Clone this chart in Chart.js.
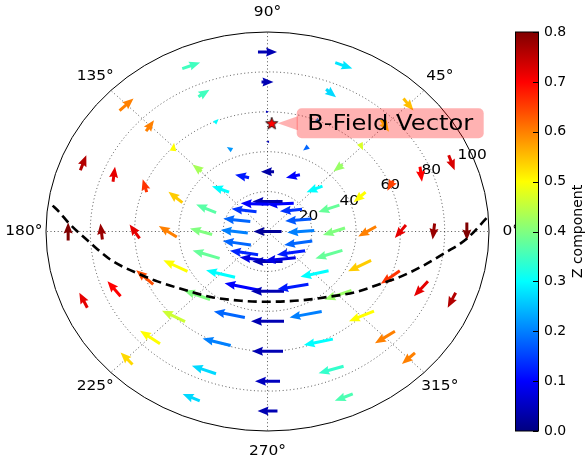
<!DOCTYPE html>
<html>
<head>
<meta charset="UTF-8">
<title>B-Field quiver</title>
<script src="https://cdn.jsdelivr.net/npm/chart.js"></script>
<style>
  html, body { margin: 0; padding: 0; background: #fff; }
</style>
</head>
<body>
<canvas id="chart-quiver" width="586" height="460"></canvas>
<script>
// polar grid of the arrows (r in degrees from centre, theta in degrees)
const radii = [15, 30, 45, 60, 75, 90];
const angles = [0, 22.5, 45, 67.5, 90, 112.5, 135, 157.5, 180, 202.5, 225, 247.5, 270, 292.5, 315, 337.5];

// arrow at the centre
const uC = -12.7, vC = 0, zC = 0.02;

// arrow components (u, v) and Z component, one list per ring, same order as angles
const u15 = [-12.2, -11.8, -10.0, -12.2, -13.6, -12.7, -11.3, -12.2, -12.2, -12.7, -12.7, -13.6, -13.6, -14.0, -12.7, -12.7];
const v15 = [-1.0, -1.0, -1.0, -0.5, 0, 0.5, 1.5, 1.5, 1.5, 2.0, 2.0, 2.0, 0, -1.5, -2.0, -2.0];
const z15 = [0.2, 0.17, 0.14, 0.1, 0.04, 0.1, 0.14, 0.18, 0.2, 0.18, 0.13, 0.08, 0.04, 0.08, 0.12, 0.18];

const u30 = [-10.0, -9.5, -7.2, -6.3, -5.9, -6.3, -7.7, -9.0, -10.0, -12.2, -13.1, -15.8, -14.9, -14.0, -12.7, -12.2];
const v30 = [-3.5, -3.5, -3.0, -1.5, 0, 1.5, 3.0, 4.0, 3.0, 4.0, 3.5, 3.5, 0, -2.5, -3.0, -4.0];
const z30 = [0.4, 0.38, 0.3, 0.1, 0.03, 0.12, 0.3, 0.37, 0.4, 0.38, 0.3, 0.1, 0.04, 0.12, 0.3, 0.38];

const u45 = [-8.1, -5.4, -4.1, -2.3, -1.4, -2.3, -4.1, -6.3, -8.1, -10.9, -11.8, -14.0, -14.9, -14.5, -12.2, -10.4];
const v45 = [-5.0, -5.0, -3.5, -2.0, 0, 1.5, 3.5, 5.5, 5.5, 5.5, 4.5, 3.0, 0, -3.0, -4.5, -5.5];
const z45 = [0.6, 0.5, 0.42, 0.18, 0.04, 0.22, 0.43, 0.54, 0.6, 0.5, 0.4, 0.18, 0.04, 0.2, 0.42, 0.54];

const u60 = [-5.0, -2.7, 1.4, 1.8, 1.4, 1.8, 0.5, -1.8, -4.5, -7.7, -10.4, -12.7, -14.0, -13.1, -11.3, -8.6];
const v60 = [-6.5, -5.0, -3.5, -1.5, 0, 2.0, 4.0, 6.5, 7.0, 7.0, 5.5, 3.5, 0, -3.0, -5.0, -6.5];
const z60 = [0.72, 0.65, 0.47, 0.22, 0.05, 0.3, 0.5, 0.66, 0.72, 0.64, 0.46, 0.2, 0.04, 0.3, 0.5, 0.66];

const u75 = [-0.9, 0.9, 3.6, 4.5, 5.4, 5.0, 3.6, 0.9, -0.9, -5.9, -9.0, -10.9, -11.3, -11.3, -9.0, -6.3];
const v75 = [-8.0, -7.5, -6.0, -4.0, 0, 3.5, 5.5, 7.5, 8.0, 7.5, 6.5, 4.0, 0, -3.5, -6.0, -7.5];
const z75 = [0.78, 0.7, 0.53, 0.27, 0.04, 0.35, 0.6, 0.72, 0.78, 0.7, 0.5, 0.27, 0.05, 0.34, 0.6, 0.72];

const u90 = [0, 2.7, 4.5, 7.7, 8.6, 8.1, 6.3, 2.7, 0, -3.6, -5.4, -7.7, -9.0, -8.1, -5.9, -3.6];
const v90 = [-9.0, -7.5, -6.0, -3.0, 0, 3.0, 6.0, 7.5, 9.0, 7.5, 6.0, 3.5, 0, -3.5, -5.5, -7.5];
const z90 = [0.8, 0.73, 0.55, 0.28, 0.04, 0.35, 0.6, 0.76, 0.8, 0.72, 0.53, 0.27, 0.04, 0.36, 0.6, 0.76];

const ringU = [u15, u30, u45, u60, u75, u90];
const ringV = [v15, v30, v45, v60, v75, v90];
const ringZ = [z15, z30, z45, z60, z75, z90];

// dashed curve (cartesian, same units as r)
const lineX = [-97, -94.2, -89.7, -79.9, -70.8, -57.2, -49.7, -37.6, -25.6, -12, 0, 15.2, 27.2, 39.3, 49.9, 60.4, 71, 80, 89.8, 98.9];
const lineY = [13, 10, 4.2, -5.8, -14.2, -21.7, -25, -29.2, -32.8, -34.7, -35.2, -34.5, -32.8, -30.5, -26.7, -22.5, -16.7, -10.8, -3.8, 6.7];

// B-field marker (polar)
const starR = 54.3, starTheta = 88;
const starLabel = 'B-Field Vector';

// axes
const rMax = 100;
const rTicks = [20, 40, 60, 80, 100];
const thetaTicks = [0, 45, 90, 135, 180, 225, 270, 315];
const zMin = 0, zMax = 0.8;

const FONT = "'DejaVu Sans', sans-serif";
Chart.defaults.font.family = FONT;
Chart.defaults.font.size = 14;
Chart.defaults.color = '#000';

function rad(d) { return d * Math.PI / 180; }
function toXY(r, t) { return { x: r * Math.cos(rad(t)), y: r * Math.sin(rad(t)) }; }

function jet(t) {
    t = Math.max(0, Math.min(1, t));
    const c = v => Math.round(255 * Math.max(0, Math.min(1, v)));
    return 'rgb(' + c(1.5 - Math.abs(4 * t - 3)) + ',' + c(1.5 - Math.abs(4 * t - 2)) + ',' + c(1.5 - Math.abs(4 * t - 1)) + ')';
}
function zColor(z) { return jet((z - zMin) / (zMax - zMin)); }

// quiver points
const quiverData = [{ x: 0, y: 0, u: uC, v: vC, z: zC }];
radii.forEach((r, i) => {
    angles.forEach((t, j) => {
        const p = toXY(r, t);
        quiverData.push({ x: p.x, y: p.y, u: ringU[i][j], v: ringV[i][j], z: ringZ[i][j] });
    });
});

const lineData = lineX.map((x, i) => ({ x: x, y: lineY[i] }));

// red star with black edge, used as point style
const starImg = document.createElement('canvas');
starImg.width = 16; starImg.height = 16;
(function () {
    const c = starImg.getContext('2d');
    c.beginPath();
    for (let k = 0; k < 10; k++) {
        const rr = k % 2 === 0 ? 6.5 : 2.7;
        const a = -Math.PI / 2 + k * Math.PI / 5;
        const px = 8 + rr * Math.cos(a), py = 8.5 + rr * Math.sin(a);
        if (k === 0) c.moveTo(px, py); else c.lineTo(px, py);
    }
    c.closePath();
    c.fillStyle = '#ff0000';
    c.fill();
    c.lineWidth = 0.8;
    c.strokeStyle = '#000';
    c.stroke();
})();

// text with the slight horizontal stretch of the picture
function label(ctx, str, x, y, size, align) {
    ctx.save();
    ctx.font = size + 'px ' + FONT;
    ctx.fillStyle = '#000';
    ctx.textAlign = align || 'center';
    ctx.textBaseline = 'middle';
    ctx.translate(x, y);
    ctx.scale(1.1, 1);
    ctx.fillText(str, 0, 0);
    ctx.restore();
}

function drawArrow(ctx, x0, y0, x1, y1, color) {
    const dx = x1 - x0, dy = y1 - y0;
    const L = Math.hypot(dx, dy);
    const w = 3, hl = 11, hal = 10, hw = 9;
    ctx.save();
    ctx.translate(x0, y0);
    ctx.rotate(Math.atan2(dy, dx));
    ctx.beginPath();
    if (L < hl) {
        const s = L / hl;
        ctx.moveTo(0, -hw * s / 2);
        ctx.lineTo(L, 0);
        ctx.lineTo(0, hw * s / 2);
    } else {
        ctx.moveTo(0, -w / 2);
        ctx.lineTo(L - hal, -w / 2);
        ctx.lineTo(L - hl, -hw / 2);
        ctx.lineTo(L, 0);
        ctx.lineTo(L - hl, hw / 2);
        ctx.lineTo(L - hal, w / 2);
        ctx.lineTo(0, w / 2);
    }
    ctx.closePath();
    ctx.fillStyle = color;
    ctx.fill();
    ctx.restore();
}

const polarGrid = {
    id: 'polarGrid',
    beforeDatasetsDraw(chart) {
        const ctx = chart.ctx, sx = chart.scales.x, sy = chart.scales.y;
        const cx = sx.getPixelForValue(0), cy = sy.getPixelForValue(0);
        const ell = r => {
            ctx.beginPath();
            ctx.ellipse(cx, cy, sx.getPixelForValue(r) - cx, cy - sy.getPixelForValue(r), 0, 0, Math.PI * 2);
            ctx.stroke();
        };
        ctx.save();
        ctx.strokeStyle = 'rgba(0,0,0,0.85)';
        ctx.lineWidth = 0.8;
        ctx.setLineDash([1, 2.6]);
        rTicks.forEach(r => { if (r < rMax) ell(r); });
        thetaTicks.forEach(t => {
            const p = toXY(rMax, t);
            ctx.beginPath();
            ctx.moveTo(cx, cy);
            ctx.lineTo(sx.getPixelForValue(p.x), sy.getPixelForValue(p.y));
            ctx.stroke();
        });
        ctx.setLineDash([]);
        ctx.lineWidth = 1;
        ctx.strokeStyle = '#000';
        ell(rMax);
        ctx.restore();

        thetaTicks.forEach(t => {
            const p = toXY(rMax * 1.1, t);
            label(ctx, t + '°', sx.getPixelForValue(p.x), sy.getPixelForValue(p.y), 14);
        });
        rTicks.forEach(r => {
            const p = toXY(r, 22.5);
            label(ctx, String(r), sx.getPixelForValue(p.x), sy.getPixelForValue(p.y), 14);
        });

        // colour bar
        const cb = chart.scales.cb;
        const left = cb.left + 26, width = 23;
        const top = cb.getPixelForValue(zMax), bottom = cb.getPixelForValue(zMin);
        const grad = ctx.createLinearGradient(0, bottom, 0, top);
        for (let k = 0; k <= 40; k++) grad.addColorStop(k / 40, jet(k / 40));
        ctx.save();
        ctx.fillStyle = grad;
        ctx.fillRect(left, top, width, bottom - top);
        ctx.strokeStyle = '#000';
        ctx.lineWidth = 1;
        ctx.strokeRect(left + 0.5, top, width, bottom - top);
        cb.ticks.forEach(tk => {
            const py = Math.round(cb.getPixelForValue(tk.value)) + 0.5;
            ctx.beginPath();
            ctx.moveTo(left + width, py);
            ctx.lineTo(left + width - 5, py);
            ctx.stroke();
        });
        ctx.translate(cb.left + 89, (top + bottom) / 2);
        ctx.rotate(-Math.PI / 2);
        ctx.font = '14px ' + FONT;
        ctx.fillStyle = '#000';
        ctx.textAlign = 'center';
        ctx.textBaseline = 'middle';
        ctx.fillText('Z component', 0, 0);
        ctx.restore();
    }
};

const quiverDraw = {
    id: 'quiverDraw',
    afterDatasetDraw(chart, args) {
        if (args.index !== 0) return;
        const ctx = chart.ctx, sx = chart.scales.x, sy = chart.scales.y;
        chart.data.datasets[0].data.forEach(d => {
            drawArrow(ctx,
                sx.getPixelForValue(d.x - d.u / 2), sy.getPixelForValue(d.y - d.v / 2),
                sx.getPixelForValue(d.x + d.u / 2), sy.getPixelForValue(d.y + d.v / 2),
                zColor(d.z));
        });
    }
};

const annotate = {
    id: 'annotate',
    afterDatasetsDraw(chart) {
        const ctx = chart.ctx, sx = chart.scales.x, sy = chart.scales.y;
        const p = toXY(starR, starTheta);
        const px = sx.getPixelForValue(p.x), py = sy.getPixelForValue(p.y);
        const bx = px + 25, by = py - 15, bw = 187, bh = 30;
        ctx.save();
        ctx.fillStyle = 'rgba(255,0,0,0.3)';
        ctx.beginPath();
        ctx.moveTo(px + 6, py);
        ctx.lineTo(bx + 1, py - 7);
        ctx.lineTo(bx + 1, py + 7);
        ctx.closePath();
        ctx.fill();
        ctx.beginPath();
        ctx.roundRect(bx, by, bw, bh, 5);
        ctx.fill();
        ctx.restore();
        label(ctx, starLabel, bx + bw / 2, py + 1, 22);
    }
};

new Chart(document.getElementById('chart-quiver'), {
    type: 'scatter',
    data: {
        datasets: [
            { data: quiverData, pointRadius: 0, order: 3 },
            {
                data: lineData, showLine: true, pointRadius: 0, borderColor: '#000',
                borderWidth: 2.6, borderDash: [9, 5], cubicInterpolationMode: 'monotone', order: 2
            },
            { data: [toXY(starR, starTheta)], pointStyle: starImg, order: 1 }
        ]
    },
    options: {
        responsive: false,
        animation: false,
        events: [],
        layout: { padding: { left: 46, top: 32, bottom: 29, right: 0 } },
        plugins: { legend: { display: false }, tooltip: { enabled: false } },
        scales: {
            x: { type: 'linear', min: -rMax, max: rMax, display: false },
            y: { type: 'linear', min: -rMax, max: rMax, display: false },
            cb: {
                type: 'linear', position: 'right', min: zMin, max: zMax,
                grid: { display: false, drawTicks: false },
                border: { display: false },
                ticks: { stepSize: 0.1, padding: 55, callback: v => v.toFixed(1), font: { size: 14 } },
                afterFit(scale) {
                    scale.width = 97;
                    scale.paddingTop = 0;
                    scale.paddingBottom = 0;
                }
            }
        }
    },
    plugins: [polarGrid, quiverDraw, annotate]
});
</script>
</body>
</html>
